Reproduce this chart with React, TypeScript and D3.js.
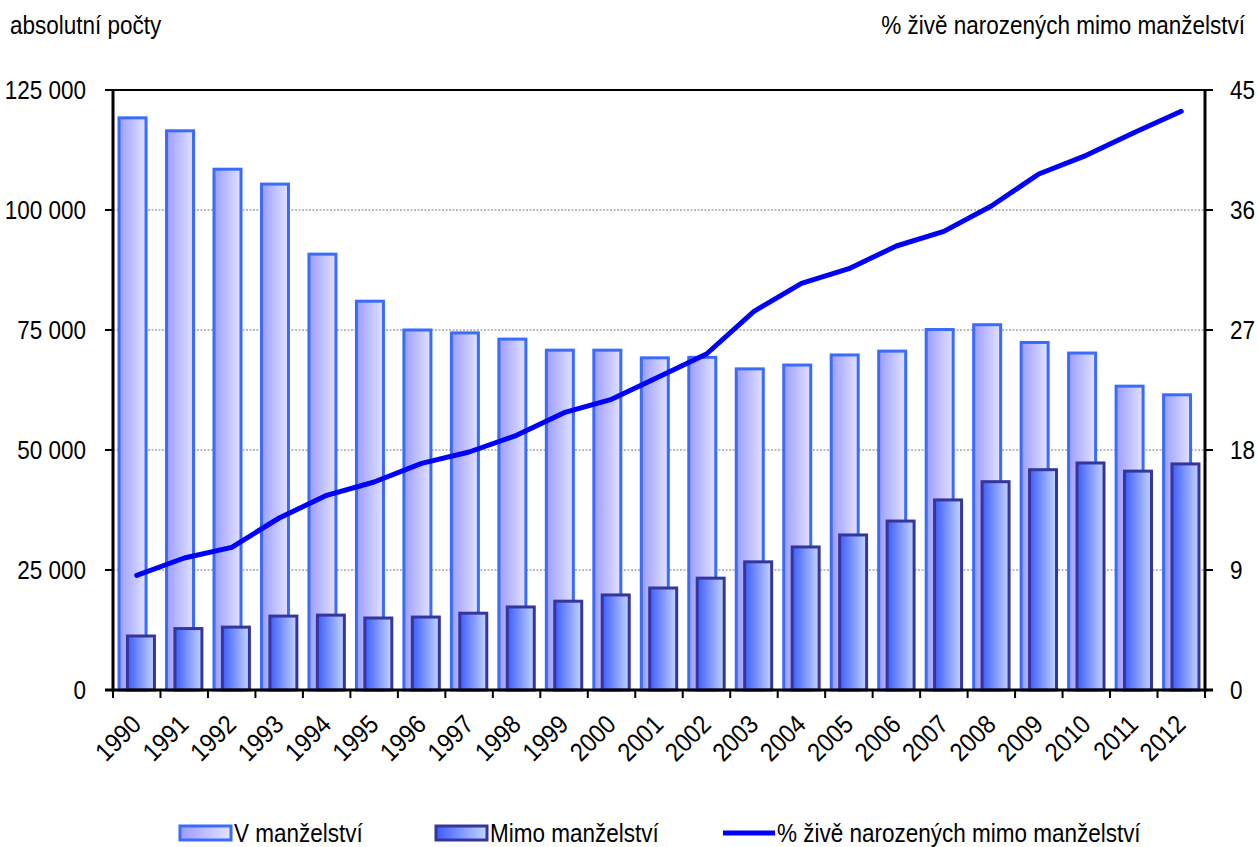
import * as d3 from "d3"

const years = [
  "1990", "1991", "1992", "1993", "1994", "1995", "1996", "1997", "1998", "1999", "2000", "2001",
  "2002", "2003", "2004", "2005", "2006", "2007", "2008", "2009", "2010", "2011", "2012",
]

// živě narození v manželství
const inMarriage = [
  119200, 116500, 108500, 105400, 90800, 81000, 75000, 74400, 73100, 70800, 70800, 69200,
  69300, 66900, 67700, 69800, 70600, 75100, 76100, 72400, 70200, 63300, 61500,
]

// živě narození mimo manželství
const outMarriage = [
  11250, 12800, 13100, 15400, 15600, 15000, 15200, 16000, 17300, 18500, 19800, 21250,
  23300, 26700, 29800, 32300, 35200, 39600, 43400, 45900, 47300, 45600, 47100,
]

// % živě narozených mimo manželství
const sharePct = [
  8.6, 9.9, 10.7, 12.9, 14.6, 15.6, 17.0, 17.85, 19.1, 20.8, 21.8, 23.5,
  25.2, 28.4, 30.5, 31.6, 33.3, 34.4, 36.3, 38.7, 40.1, 41.8, 43.4,
]

const leftTicks = [0, 25000, 50000, 75000, 100000, 125000]
const rightTicks = [0, 9, 18, 27, 36, 45]

const W = 1257
const H = 847
const margin = { top: 90, right: 52, bottom: 157, left: 113 }
const FONT = "'Liberation Sans', Arial, sans-serif"
const SX = 0.9 // narrow look of the original font

const fmt = d3.formatLocale({ decimal: ",", thousands: " ", grouping: [3], currency: ["", ""] }).format(",")

// text squeezed horizontally, positioned at (x, y)
function NText(props: {
  x: number
  y: number
  anchor?: "start" | "middle" | "end"
  rotate?: number
  dy?: string
  size?: number
  children: React.ReactNode
}) {
  const { x, y, anchor = "start", rotate = 0, dy, size = 25, children } = props
  return (
    <text
      transform={`translate(${x},${y}) rotate(${rotate}) scale(${SX},1)`}
      textAnchor={anchor}
      dy={dy}
      fontFamily={FONT}
      fontSize={size}
      fill="#000"
    >
      {children}
    </text>
  )
}

export default function App() {
  const x = d3
    .scaleBand<string>()
    .domain(years)
    .range([margin.left, W - margin.right])
    .padding(0)
  const y = d3.scaleLinear().domain([0, 125000]).range([H - margin.bottom, margin.top])
  const y2 = d3.scaleLinear().domain([0, 45]).range([H - margin.bottom, margin.top])

  const barW = 27
  const off = 8.4
  const groupStart = (yr: string) => x(yr)! + x.bandwidth() / 2 - (barW + off) / 2

  const line = d3
    .line<number>()
    .x((_, i) => x(years[i])! + x.bandwidth() / 2)
    .y((d) => y2(d))

  const x0 = margin.left
  const x1 = W - margin.right
  const yb = H - margin.bottom
  const yt = margin.top

  return (
    <svg width={W} height={H} style={{ position: "absolute", left: 0, top: 0, background: "#fff" }}>
      <defs>
        <linearGradient id="gIn" x1="0" x2="1" y1="0" y2="0">
          <stop offset="0%" stopColor="#9c9cff" />
          <stop offset="100%" stopColor="#e2e2ff" />
        </linearGradient>
        <linearGradient id="gOut" x1="0" x2="1" y1="0" y2="0">
          <stop offset="0%" stopColor="#3c5cff" />
          <stop offset="100%" stopColor="#c4d4ff" />
        </linearGradient>
      </defs>

      {/* gridlines */}
      {leftTicks.slice(1, -1).map((t) => (
        <line key={t} x1={x0} x2={x1} y1={y(t)} y2={y(t)} stroke="#777" strokeWidth={1} strokeDasharray="2,1.5" />
      ))}

      {/* bars in marriage */}
      {years.map((yr, i) => (
        <rect
          key={"in" + yr}
          x={groupStart(yr)}
          y={y(inMarriage[i])}
          width={barW}
          height={yb - y(inMarriage[i])}
          fill="url(#gIn)"
          stroke="#3a6bff"
          strokeWidth={3}
        />
      ))}

      {/* bars out of marriage */}
      {years.map((yr, i) => (
        <rect
          key={"out" + yr}
          x={groupStart(yr) + off}
          y={y(outMarriage[i])}
          width={barW}
          height={yb - y(outMarriage[i])}
          fill="url(#gOut)"
          stroke="#36369a"
          strokeWidth={3}
        />
      ))}

      {/* frame & axes */}
      <line x1={x0 - 8} x2={x1} y1={yt} y2={yt} stroke="#000" strokeWidth={2} />
      <line x1={x0} x2={x0} y1={yt} y2={yb + 1.5} stroke="#000" strokeWidth={3} />
      <line x1={x1} x2={x1} y1={yt} y2={yb + 1.5} stroke="#000" strokeWidth={3} />
      <line x1={x0 - 8} x2={x1 + 8} y1={yb} y2={yb} stroke="#000" strokeWidth={3} />

      {leftTicks.map((t) => (
        <g key={"l" + t}>
          <line x1={x0 - 8} x2={x0} y1={y(t)} y2={y(t)} stroke="#000" strokeWidth={2} />
          <NText x={x0 - 27} y={y(t)} dy="0.35em" anchor="end">
            {fmt(t)}
          </NText>
        </g>
      ))}
      {rightTicks.map((t) => (
        <g key={"r" + t}>
          <line x1={x1} x2={x1 + 8} y1={y2(t)} y2={y2(t)} stroke="#000" strokeWidth={2} />
          <NText x={x1 + 25} y={y2(t)} dy="0.35em">
            {t}
          </NText>
        </g>
      ))}

      {/* bottom ticks at band edges */}
      {[...years.map((yr) => x(yr)!), x1].map((px, i) => (
        <line key={"b" + i} x1={px} x2={px} y1={yb} y2={yb + 8} stroke="#000" strokeWidth={2} />
      ))}
      {years.map((yr) => (
        <NText key={"t" + yr} x={x(yr)! + x.bandwidth() / 2 + 6} y={yb + 36} anchor="end" rotate={-45} size={26}>
          {yr}
        </NText>
      ))}

      {/* share line */}
      <path d={line(sharePct)!} fill="none" stroke="#0000ff" strokeWidth={5} strokeLinejoin="round" strokeLinecap="round" />

      {/* titles */}
      <NText x={10} y={34}>absolutní počty</NText>
      <NText x={1245} y={34} anchor="end">
        % živě narozených mimo manželství
      </NText>

      {/* legend */}
      <rect x={180} y={826} width={51} height={14} fill="url(#gIn)" stroke="#3a6bff" strokeWidth={3} />
      <NText x={234} y={842}>V manželství</NText>
      <rect x={436} y={826} width={51} height={14} fill="url(#gOut)" stroke="#36369a" strokeWidth={3} />
      <NText x={490} y={842}>Mimo manželství</NText>
      <line x1={723} x2={775} y1={833} y2={833} stroke="#0000ff" strokeWidth={5} />
      <NText x={777} y={842}>% živě narozených mimo manželství</NText>
    </svg>
  )
}
